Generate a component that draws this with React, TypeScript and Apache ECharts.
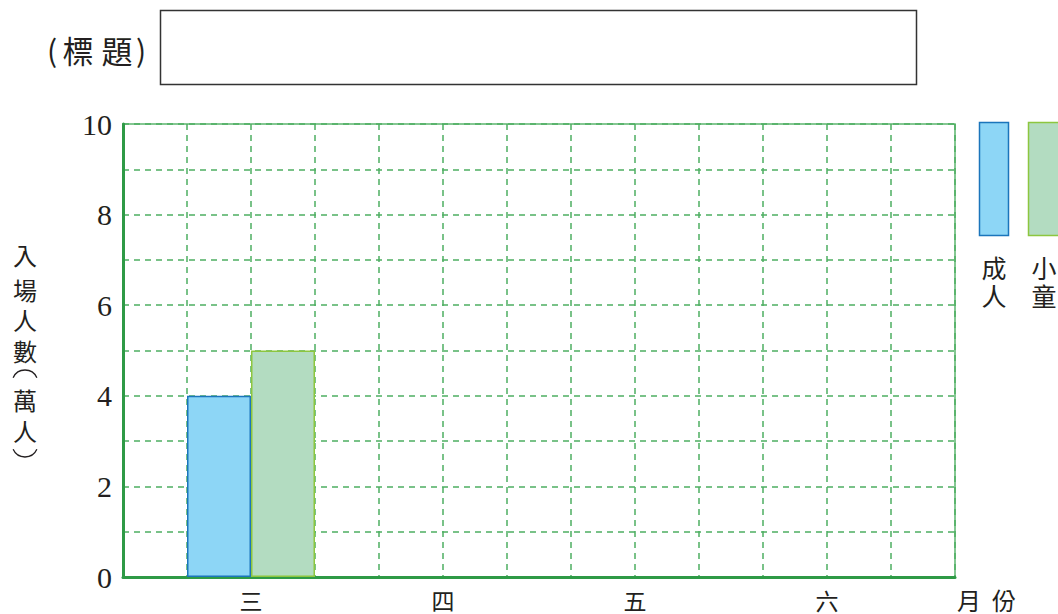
import React, { useEffect, useRef } from "react";
import * as echarts from "echarts";

const months = ["三", "四", "五", "六"];
const adults = [4, null, null, null];
const children = [5, null, null, null];
const seriesNames = ["成人", "小童"];
const yMin = 0;
const yMax = 10;
const yStep = 1;
const columnCount = 13;
const yAxisNameChars = ["入", "場", "人", "數", "萬", "人"];
const yAxisNameYs = [254, 289, 319, 350, 399, 430];

const CJK = "'Noto Sans CJK TC', 'Noto Sans CJK SC', sans-serif";
const SERIF = "'Liberation Serif', 'DejaVu Serif', serif";
const GREEN = "#2E9A46";
const GREEN_LIGHT = "#5CB56F";
const DASH = "#4DAF62";
const INK = "#231F20";

export default function App() {
  const ref = useRef<HTMLDivElement>(null);

  useEffect(() => {
    if (!ref.current) return;
    const chart = echarts.init(ref.current, null, { renderer: "svg" });

    const gridTop = 124;
    const gridHeight = 453;

    const centerText = (text: string, x: number, y: number, size: number) => ({
      type: "text",
      x,
      y,
      style: {
        text,
        font: `${size}px ${CJK}`,
        fill: INK,
        align: "center",
        verticalAlign: "middle",
      },
    });

    const graphics: any[] = [
      centerText("(", 52, 49, 30),
      centerText("標", 78, 49, 31),
      centerText("題", 117, 49, 31),
      centerText(")", 141, 49, 30),
      {
        type: "rect",
        shape: { x: 160.5, y: 10.5, width: 756, height: 74 },
        style: { fill: "#fff", stroke: "#333", lineWidth: 1.5 },
      },
      {
        type: "rect",
        shape: { x: 979.5, y: 122.5, width: 29, height: 113 },
        style: { fill: "#8DD6F6", stroke: "#1B75BB", lineWidth: 1.5 },
      },
      {
        type: "rect",
        shape: { x: 1028.5, y: 122.5, width: 40, height: 113 },
        style: { fill: "#B3DCC1", stroke: "#8DC63F", lineWidth: 1.5 },
      },
      centerText(seriesNames[0][0], 994, 267, 25),
      centerText(seriesNames[0][1], 994, 295, 25),
      centerText(seriesNames[1][0], 1044, 267, 25),
      centerText(seriesNames[1][1], 1044, 295, 25),
      centerText("月", 969, 599, 24),
      centerText("份", 1004, 599, 24),
      ...yAxisNameChars.map((c, i) => centerText(c, 25, yAxisNameYs[i], 24)),
      {
        type: "arc",
        shape: {
          cx: 25,
          cy: 383,
          r: 13,
          startAngle: (3 * Math.PI) / 2 - 1.15,
          endAngle: (3 * Math.PI) / 2 + 1.15,
        },
        style: { stroke: INK, lineWidth: 1.3, fill: "none" },
      },
      {
        type: "arc",
        shape: {
          cx: 25,
          cy: 444,
          r: 13,
          startAngle: Math.PI / 2 - 1.15,
          endAngle: Math.PI / 2 + 1.15,
        },
        style: { stroke: INK, lineWidth: 1.3, fill: "none" },
      },
    ];

    chart.setOption({
      animation: false,
      backgroundColor: "#fff",
      grid: [
        {
          left: 123,
          top: gridTop,
          width: 832,
          height: gridHeight,
          show: true,
          borderColor: GREEN_LIGHT,
          borderWidth: 1.5,
          backgroundColor: "transparent",
        },
        {
          left: 155,
          top: gridTop,
          width: 768,
          height: gridHeight,
        },
      ],
      xAxis: [
        {
          type: "value",
          gridIndex: 0,
          min: 0,
          max: columnCount,
          interval: 1,
          axisLine: { show: true, lineStyle: { color: GREEN, width: 3 } },
          axisTick: { show: false },
          axisLabel: { show: false },
          splitLine: {
            show: true,
            lineStyle: { color: DASH, type: [6, 5], width: 1.5 },
          },
        },
        {
          type: "category",
          gridIndex: 1,
          data: months,
          axisLine: { show: false },
          axisTick: { show: false },
          axisLabel: {
            margin: 11,
            fontFamily: CJK,
            fontSize: 23,
            color: INK,
          },
          splitLine: { show: false },
        },
      ],
      yAxis: [
        {
          type: "value",
          gridIndex: 0,
          min: yMin,
          max: yMax,
          interval: yStep,
          axisLine: { show: true, lineStyle: { color: GREEN, width: 3 } },
          axisTick: { show: false },
          axisLabel: {
            margin: 11,
            fontFamily: SERIF,
            fontSize: 30,
            color: INK,
            formatter: (v: number) => (v % 2 === 0 ? String(v) : ""),
          },
          splitLine: {
            show: true,
            lineStyle: { color: DASH, type: [6, 5], width: 1.5 },
          },
        },
        {
          type: "value",
          gridIndex: 1,
          min: yMin,
          max: yMax,
          interval: yStep,
          show: false,
          splitLine: { show: false },
        },
      ],
      series: [
        {
          name: seriesNames[0],
          type: "bar",
          xAxisIndex: 1,
          yAxisIndex: 1,
          data: adults,
          barWidth: 64,
          barGap: "0%",
          itemStyle: { color: "#8DD6F6", borderColor: "#1B75BB", borderWidth: 1.5 },
        },
        {
          name: seriesNames[1],
          type: "bar",
          xAxisIndex: 1,
          yAxisIndex: 1,
          data: children,
          barWidth: 64,
          barGap: "0%",
          itemStyle: { color: "#B3DCC1", borderColor: "#8DC63F", borderWidth: 1.5 },
        },
      ],
      graphic: graphics,
    });

    return () => chart.dispose();
  }, []);

  return (
    <div
      ref={ref}
      style={{ position: "absolute", left: 0, top: 0, width: 1058, height: 614 }}
    />
  );
}
